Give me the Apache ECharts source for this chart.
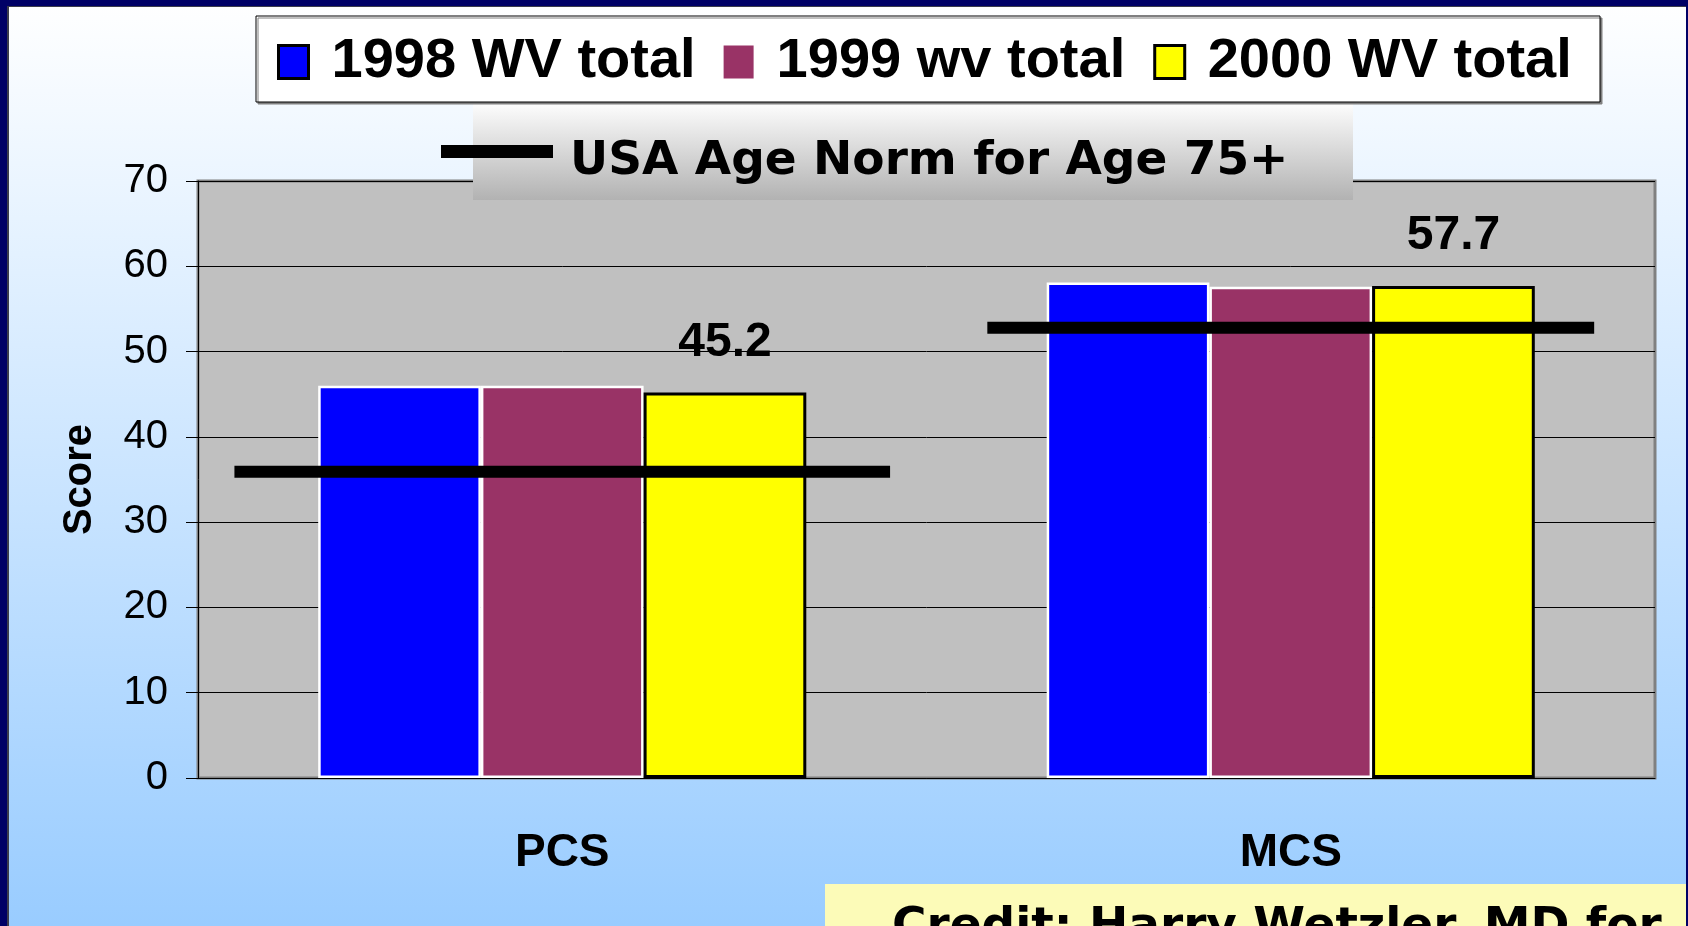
<!DOCTYPE html>
<html>
<head>
<meta charset="utf-8">
<script src="https://cdn.jsdelivr.net/npm/echarts@6/dist/echarts.min.js"></script>
<style>
	body {margin: 0; overflow: hidden;}
	#main {position: absolute; left: 0; top: 0; width: 1688px; height: 926px; background: linear-gradient(to bottom, #ffffff 0%, #99ccff 100%);}
	#frame {position: absolute; left: 0; top: 0; width: 1688px; height: 926px; box-sizing: border-box; pointer-events: none;
		border-top: 6px solid #000066; border-left: 7px solid #000066; border-right: 2px solid #000066;
		box-shadow: inset 2px 1px 0 #3c3c4c;}
</style>
</head>
<body>
<div id="main"></div>
<div id="frame"></div>
<script>
	// categories and values
	var categories = ['PCS', 'MCS'];
	var seriesNames = ['1998 WV total', '1999 wv total', '2000 WV total'];
	var wv1998 = [46.0, 58.1];
	var wv1999 = [46.0, 57.6];
	var wv2000 = [45.2, 57.7];
	var normName = 'USA Age Norm for Age 75+';
	var normValues = [35.9, 52.8];
	var yMin = 0, yMax = 70, yStep = 10;
	var creditText = 'Credit: Harry Wetzler, MD for';

	var arial = '"Liberation Sans", Arial, sans-serif';
	var verdana = '"DejaVu Sans", Verdana, sans-serif';

	// norm line: horizontal bar across most of the category band
	function renderNorm(params, api) {
		var spans = [0.9, 0.833];
		var c = api.coord([api.value(0), api.value(1)]);
		var half = api.size([1, 0])[0] * spans[params.dataIndex] / 2;
		return {
			type: 'line',
			shape: {x1: c[0] - half, y1: c[1], x2: c[0] + half, y2: c[1]},
			style: {stroke: '#000', lineWidth: 12}
		};
	}

	var myChart = echarts.init(document.getElementById('main'));
	var option = {
		backgroundColor: 'transparent',
		animation: false,
		graphic: [
			{type: 'rect', z: 3, shape: {x: 473, y: 102, width: 880, height: 98},
				style: {fill: new echarts.graphic.LinearGradient(0, 0, 0, 1, [{offset: 0, color: '#fefefe'}, {offset: 1, color: '#b2b2b2'}])}},
			{type: 'rect', z: 3, shape: {x: 256, y: 16, width: 1344, height: 86},
				style: {fill: '#fff', stroke: '#000', lineWidth: 1, shadowColor: '#808080', shadowOffsetX: 2, shadowOffsetY: 2, shadowBlur: 0}},
			{type: 'rect', z: 3, shape: {x: 825, y: 884, width: 870, height: 50}, style: {fill: '#fcfbb8'}},
			{type: 'text', z: 4, x: 892, y: 928,
				style: {text: creditText, fill: '#000', font: 'bold 47px ' + verdana, verticalAlign: 'middle'}}
		],
		legend: [
			{
				left: 277, top: 34, padding: 0, itemGap: 28, itemWidth: 30, itemHeight: 33,
				textStyle: {fontSize: 56, fontWeight: 'bold', fontFamily: arial, color: '#000', padding: [0, 0, 0, 18]},
				data: [
					{name: seriesNames[0], icon: 'rect', itemStyle: {borderColor: '#000', borderWidth: 3}},
					{name: seriesNames[1], icon: 'rect', itemStyle: {borderWidth: 0}},
					{name: seriesNames[2], icon: 'rect', itemStyle: {borderColor: '#000', borderWidth: 3}}
				]
			},
			{
				left: 441, top: 138, padding: 0, itemWidth: 112, itemHeight: 13,
				formatter: '{t|{name}}',
				textStyle: {
					color: '#000',
					rich: {t: {fontSize: 47, fontWeight: 'bold', fontFamily: verdana, color: '#000', padding: [20, 0, 0, 12]}}
				},
				data: [{name: normName, icon: 'rect', itemStyle: {color: '#000', borderWidth: 0}}]
			}
		],
		grid: {left: 198, right: 33, top: 181, bottom: 148, show: true, backgroundColor: '#c0c0c0', borderColor: '#808080', borderWidth: 3},
		xAxis: {
			type: 'category', data: categories,
			axisLine: {lineStyle: {color: '#000', width: 1}},
			axisTick: {length: 15, lineStyle: {color: '#000'}},
			axisLabel: {fontSize: 46, fontWeight: 'bold', fontFamily: arial, color: '#000', margin: 52}
		},
		yAxis: {
			type: 'value', min: yMin, max: yMax, interval: yStep,
			name: 'Score', nameLocation: 'middle', nameGap: 98,
			nameTextStyle: {fontSize: 40, fontWeight: 'bold', fontFamily: arial, color: '#000'},
			axisLine: {show: true, lineStyle: {color: '#000', width: 1}},
			axisTick: {show: true, length: 12, lineStyle: {color: '#000'}},
			axisLabel: {fontSize: 40, fontFamily: arial, color: '#000', margin: 30},
			splitLine: {lineStyle: {color: '#000', width: 1}}
		},
		series: [
			{name: seriesNames[0], type: 'bar', data: wv1998, barGap: '0%', barCategoryGap: '33%',
				itemStyle: {color: '#0000ff', borderColor: '#fff', borderWidth: 2.5}},
			{name: seriesNames[1], type: 'bar', data: wv1999,
				itemStyle: {color: '#993366', borderColor: '#fff', borderWidth: 2.5}},
			{name: seriesNames[2], type: 'bar', data: wv2000,
				itemStyle: {color: '#ffff00', borderColor: '#000', borderWidth: 3},
				label: {show: true, position: 'top', distance: 26, fontSize: 48, fontWeight: 'bold', fontFamily: arial, color: '#000'}},
			{name: normName, type: 'custom', z: 3, renderItem: renderNorm,
				itemStyle: {color: '#000'}, encode: {x: 0, y: 1},
				data: normValues.map(function(v, i) { return [i, v]; })}
		]
	};
	myChart.setOption(option);
</script>
</body>
</html>
